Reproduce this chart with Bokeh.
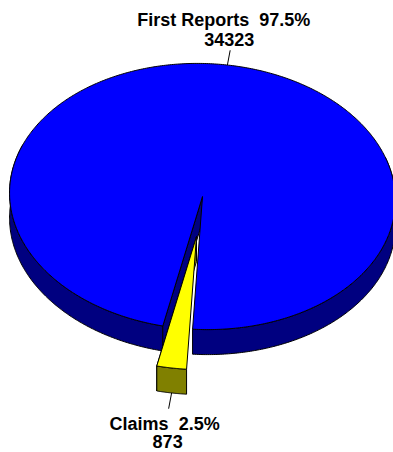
import numpy as np
from bokeh.plotting import figure
from bokeh.models import Range1d
from bokeh.core.properties import value
from bokeh.embed import file_html
from bokeh.resources import INLINE

# ---- data ----
categories = ["First Reports", "Claims"]
counts = [34323, 873]
top_colors = ["#0000FF", "#FFFF00"]
side_colors = ["#000080", "#808000"]

# ---- geometry (pixel space) ----
W, H = 393, 452
CX, CY = 202.0, 196.0
RX, RY = 193.0, 133.0
TILT = np.deg2rad(2.0)
DEPTH = 25.0
START = 100.5          # screen angle (deg, clockwise) where first slice starts
EXPLODE = {1: (-6.0, 40.0)}

total = float(sum(counts))
fracs = [c / total for c in counts]
pcts = [round(f * 100, 1) for f in fracs]


def rim(theta_deg, off=(0.0, 0.0), dz=0.0):
    t = np.deg2rad(np.asarray(theta_deg, dtype=float))
    ex, ey = RX * np.cos(t), RY * np.sin(t)
    x = ex * np.cos(TILT) - ey * np.sin(TILT)
    y = ex * np.sin(TILT) + ey * np.cos(TILT)
    return CX + off[0] + x, CY + off[1] + y + dz


p = figure(width=W, height=H, x_range=Range1d(0, W), y_range=Range1d(H, 0),
           output_backend="svg", toolbar_location=None, min_border=0)
p.axis.visible = False
p.grid.visible = False
p.outline_line_color = None
p.background_fill_color = "white"
p.border_fill_color = "white"

spans = []
a = START
for f in fracs:
    spans.append((a, a + f * 360.0))
    a += f * 360.0

LW = 1

# --- First Reports (blue) ---
a0, a1 = spans[0]
off0 = (0.0, 0.0)
for s, e in [(a0, 200.0), (340.0, a1)]:
    th = np.linspace(s, e, 200)
    tx, ty = rim(th, off0)
    bx, by = rim(th[::-1], off0, DEPTH)
    p.patch(np.concatenate([tx, bx]), np.concatenate([ty, by]),
            fill_color=side_colors[0], line_color="black", line_width=LW)
rx0, ry0 = rim(a0, off0)
p.patch([CX, rx0, rx0, CX], [CY, ry0, ry0 + DEPTH, CY + DEPTH],
        fill_color=side_colors[0], line_color="black", line_width=LW)
th = np.linspace(a0, a1, 600)
tx, ty = rim(th, off0)
p.patch(np.concatenate([[CX], tx]), np.concatenate([[CY], ty]),
        fill_color=top_colors[0], line_color="black", line_width=LW)

# --- Claims (yellow, exploded) ---
b0, b1 = spans[1]
off1 = EXPLODE[1]
ax_, ay_ = CX + off1[0], CY + off1[1]
ex_, ey_ = rim(b1, off1)
p.patch([ax_, ex_, ex_, ax_], [ay_, ey_, ey_ + DEPTH, ay_ + DEPTH],
        fill_color=side_colors[1], line_color="black", line_width=LW)
th = np.linspace(b0, b1, 40)
tx, ty = rim(th, off1)
bx, by = rim(th[::-1], off1, DEPTH)
p.patch(np.concatenate([tx, bx]), np.concatenate([ty, by]),
        fill_color=side_colors[1], line_color="black", line_width=LW)
tx, ty = rim(th, off1)
p.patch(np.concatenate([[ax_], tx]), np.concatenate([[ay_], ty]),
        fill_color=top_colors[1], line_color="black", line_width=LW)

# --- leader lines and labels ---
font = value("Liberation Sans")
fsize = "18px"
SP = "\u00a0 "

m0 = (a0 + a1) / 2.0
sx, sy = rim(m0, off0)
dx, dy = sx - CX, sy - CY
n = np.hypot(dx, dy)
lx, ly = sx + dx / n * 15, sy + dy / n * 15
p.line([sx, lx], [sy, ly], line_color="black", line_width=1)
p.text(x=[lx - 6.5, lx - 1], y=[ly - 30, ly - 11],
       text=[f"{categories[0]}{SP}{pcts[0]}%", f"{counts[0]}"],
       text_font=font, text_font_size=fsize, text_font_style="bold",
       text_align="center", text_baseline="alphabetic", text_color="black")

m1 = (b0 + b1) / 2.0
sx, sy = rim(m1, off1, DEPTH)
dx, dy = sx - ax_, sy - (ay_ + DEPTH)
n = np.hypot(dx, dy)
lx, ly = sx + dx / n * 16, sy + dy / n * 16
p.line([sx, lx], [sy, ly], line_color="black", line_width=1)
p.text(x=[lx - 4, lx - 1], y=[ly + 15, ly + 33],
       text=[f"{categories[1]}{SP}{pcts[1]}%", f"{counts[1]}"],
       text_font=font, text_font_size=fsize, text_font_style="bold",
       text_align="center", text_baseline="alphabetic", text_color="black")

open("out.html", "w").write(file_html(p, INLINE))
